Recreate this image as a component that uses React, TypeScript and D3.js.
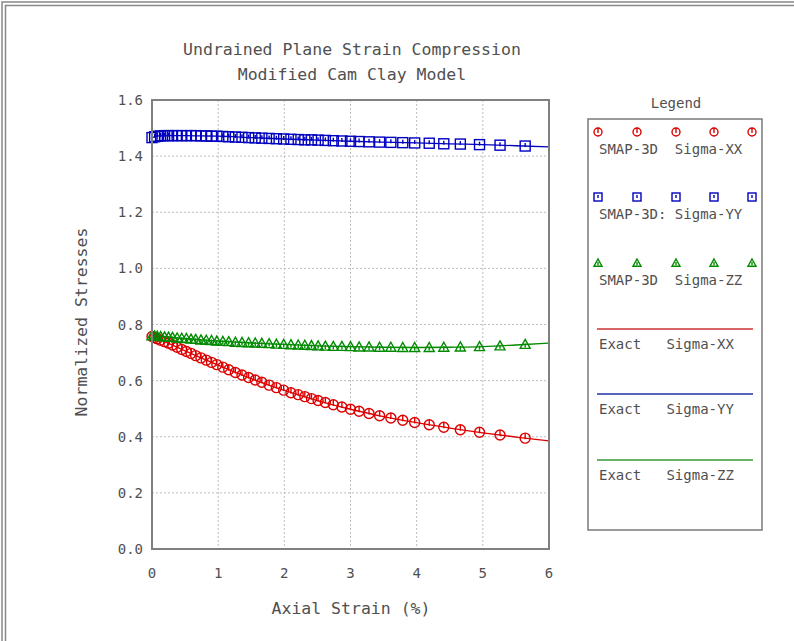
import React from 'react';
import * as d3 from 'd3';

// Axial strain (%) at which SMAP-3D results were written
const strain = [
  0, 0.04, 0.08, 0.13, 0.19, 0.25, 0.31, 0.38, 0.45, 0.52, 0.59, 0.66, 0.74, 0.82, 0.9, 0.98,
  1.07, 1.16, 1.26, 1.36, 1.46, 1.56, 1.66, 1.77, 1.88, 1.99,
  2.1, 2.21, 2.31, 2.41, 2.51, 2.62, 2.74, 2.87, 3.0,
  3.13, 3.28, 3.44, 3.61, 3.79, 3.97,
  4.19, 4.41, 4.66, 4.95, 5.26, 5.64,
];

const smapXX = [
  0.757, 0.753, 0.749, 0.744, 0.739, 0.733, 0.727, 0.719, 0.711, 0.704, 0.697, 0.689, 0.681, 0.673, 0.665, 0.657,
  0.648, 0.639, 0.629, 0.62, 0.611, 0.602, 0.594, 0.584, 0.575, 0.566,
  0.557, 0.55, 0.543, 0.536, 0.529, 0.522, 0.514, 0.506, 0.498,
  0.491, 0.483, 0.475, 0.467, 0.459, 0.451,
  0.443, 0.434, 0.425, 0.416, 0.406, 0.395,
];

const smapYY = [
  1.466, 1.469, 1.471, 1.472, 1.473, 1.473, 1.473, 1.473, 1.473, 1.473, 1.473, 1.473, 1.472, 1.472, 1.471, 1.471,
  1.47, 1.469, 1.468, 1.467, 1.466, 1.465, 1.464, 1.463, 1.462, 1.461,
  1.46, 1.459, 1.458, 1.458, 1.457, 1.456, 1.455, 1.454, 1.453,
  1.452, 1.451, 1.45, 1.449, 1.448, 1.447,
  1.446, 1.444, 1.443, 1.441, 1.439, 1.436,
];

const smapZZ = [
  0.76, 0.759, 0.758, 0.757, 0.756, 0.755, 0.754, 0.752, 0.751, 0.75, 0.748, 0.747, 0.745, 0.744, 0.743, 0.741,
  0.74, 0.739, 0.737, 0.736, 0.735, 0.734, 0.733, 0.732, 0.73, 0.729,
  0.728, 0.727, 0.726, 0.725, 0.724, 0.723, 0.722, 0.722, 0.721,
  0.72, 0.72, 0.719, 0.719, 0.718, 0.718,
  0.718, 0.719, 0.72, 0.721, 0.724, 0.729,
];

// Closed-form solution
const exactStrain = [0, 0.1, 0.25, 0.5, 0.75, 1, 1.5, 2, 2.5, 3, 3.5, 4, 4.5, 5, 5.5, 6];
const exactXX = [0.757, 0.748, 0.733, 0.706, 0.68, 0.655, 0.607, 0.565, 0.529, 0.498, 0.472, 0.45, 0.431, 0.414, 0.399, 0.385];
const exactYY = [1.466, 1.472, 1.473, 1.473, 1.472, 1.471, 1.466, 1.461, 1.457, 1.453, 1.45, 1.447, 1.444, 1.441, 1.437, 1.433];
const exactZZ = [0.76, 0.758, 0.755, 0.75, 0.745, 0.741, 0.734, 0.729, 0.724, 0.721, 0.719, 0.718, 0.719, 0.721, 0.727, 0.734];

const xTicks = [0, 1, 2, 3, 4, 5, 6];
const xTickLabels = ['0', '1', '2', '3', '4', '5', '6'];
const yTicks = [0, 0.2, 0.4, 0.6, 0.8, 1.0, 1.2, 1.4, 1.6];
const yTickLabels = ['0.0', '0.2', '0.4', '0.6', '0.8', '1.0', '1.2', '1.4', '1.6'];

const titleLines = ['Undrained Plane Strain Compression', 'Modified Cam Clay Model'];
const xTitle = 'Axial Strain (%)';
const yTitle = 'Normalized Stresses';

const RED = '#dd0000';
const BLUE = '#0000c0';
const GREEN = '#008a00';

const FONT = "'DejaVu Sans Mono', 'Liberation Mono', monospace";
const TEXT = '#505050';

const W = 794;
const H = 641;
const plot = { left: 152, right: 549, top: 100, bottom: 549 };

type Shape = 'circle' | 'square' | 'triangle';

function Marker({ shape, x, y, color, s }: { shape: Shape; x: number; y: number; color: string; s: number }) {
  const h = s / 2;
  if (shape === 'circle') {
    return (
      <g stroke={color} strokeWidth={1.4} fill="none">
        <circle cx={x} cy={y} r={h} />
        <line x1={x} y1={y - h} x2={x} y2={y + 1} />
      </g>
    );
  }
  if (shape === 'square') {
    return (
      <g stroke={color} strokeWidth={1.4} fill="none">
        <rect x={x - h} y={y - h} width={s} height={s} />
        <line x1={x} y1={y - h + 2} x2={x} y2={y + 1} />
      </g>
    );
  }
  const pts = `${x},${y - h} ${x + h},${y + h * 0.8} ${x - h},${y + h * 0.8}`;
  return (
    <g stroke={color} strokeWidth={1.4} fill="none">
      <polygon points={pts} />
      <line x1={x} y1={y - 1} x2={x} y2={y + h * 0.8 - 1} />
    </g>
  );
}

export default function App() {
  const x = d3.scaleLinear().domain([0, 6]).range([plot.left, plot.right]);
  const y = d3.scaleLinear().domain([0, 1.6]).range([plot.bottom, plot.top]);

  const line = d3
    .line<number>()
    .x((_, i) => x(exactStrain[i]))
    .y((d) => y(d))
    .curve(d3.curveMonotoneX);

  const series = [
    { values: smapXX, exact: exactXX, color: RED, shape: 'circle' as Shape },
    { values: smapZZ, exact: exactZZ, color: GREEN, shape: 'triangle' as Shape },
    { values: smapYY, exact: exactYY, color: BLUE, shape: 'square' as Shape },
  ];

  const legendMarkers = [
    { label: 'SMAP-3D  Sigma-XX', color: RED, shape: 'circle' as Shape, y: 132 },
    { label: 'SMAP-3D: Sigma-YY', color: BLUE, shape: 'square' as Shape, y: 197 },
    { label: 'SMAP-3D  Sigma-ZZ', color: GREEN, shape: 'triangle' as Shape, y: 263 },
  ];
  const legendLines = [
    { label: 'Exact   Sigma-XX', color: '#cc3333', y: 329 },
    { label: 'Exact   Sigma-YY', color: '#2233aa', y: 394 },
    { label: 'Exact   Sigma-ZZ', color: '#339933', y: 460 },
  ];
  const legendXs = [598, 637, 676, 714, 752];

  return (
    <svg
      width={W}
      height={H}
      viewBox={`0 0 ${W} ${H}`}
      style={{ position: 'absolute', left: 0, top: 0, background: '#fff' }}
      fontFamily={FONT}
    >
      <rect x={0} y={0} width={W} height={H} fill="#fff" />
      {/* outer double frame */}
      <g stroke="#888" strokeWidth={1.5} fill="none">
        <path d={`M2,${H} V2 H${W}`} />
        <path d={`M5.5,${H} V5.5 H${W}`} />
      </g>

      {/* titles */}
      {titleLines.map((t, i) => (
        <text key={t} x={352} y={55 + i * 25} textAnchor="middle" fontSize={16.5} fill={TEXT}>
          {t}
        </text>
      ))}

      {/* grid */}
      <g stroke="#bdbdbd" strokeWidth={1} strokeDasharray="2,2">
        {xTicks.slice(1, -1).map((t) => (
          <line key={`gx${t}`} x1={x(t)} x2={x(t)} y1={plot.top} y2={plot.bottom} />
        ))}
        {yTicks.slice(1, -1).map((t) => (
          <line key={`gy${t}`} x1={plot.left} x2={plot.right} y1={y(t)} y2={y(t)} />
        ))}
      </g>

      {/* tick labels */}
      {yTicks.map((t, i) => (
        <text key={`yl${t}`} x={143} y={y(t) + 5} textAnchor="end" fontSize={14} fill={TEXT}>
          {yTickLabels[i]}
        </text>
      ))}
      {xTicks.map((t, i) => (
        <text key={`xl${t}`} x={x(t)} y={578} textAnchor="middle" fontSize={14} fill={TEXT}>
          {xTickLabels[i]}
        </text>
      ))}

      {/* axis titles */}
      <text x={351} y={614} textAnchor="middle" fontSize={16.5} fill={TEXT} style={{ whiteSpace: 'pre' }}>
        {xTitle}
      </text>
      <text
        transform={`translate(87,322) rotate(-90)`}
        textAnchor="middle"
        fontSize={16.5}
        fill={TEXT}
      >
        {yTitle}
      </text>

      {/* data */}
      <g>
        {series.map((s) => (
          <path key={`l${s.color}`} d={line(s.exact) || ''} fill="none" stroke={s.color} strokeWidth={1.3} />
        ))}
        {series.map((s) =>
          s.values.map((v, i) => (
            <Marker key={`${s.color}${i}`} shape={s.shape} x={x(strain[i])} y={y(v)} color={s.color} s={10} />
          ))
        )}
      </g>

      {/* plot frame */}
      <rect
        x={plot.left}
        y={plot.top}
        width={plot.right - plot.left}
        height={plot.bottom - plot.top}
        fill="none"
        stroke="#808080"
        strokeWidth={2}
      />

      {/* legend */}
      <text x={676} y={108} textAnchor="middle" fontSize={14} fill={TEXT}>
        Legend
      </text>
      <rect x={588} y={119} width={174} height={411} fill="none" stroke="#7a7a7a" strokeWidth={1.5} />
      {legendMarkers.map((m) => (
        <g key={m.label}>
          {legendXs.map((lx) => (
            <Marker key={lx} shape={m.shape} x={lx} y={m.y} color={m.color} s={8} />
          ))}
          <text x={599} y={m.y + 22} fontSize={14} fill={TEXT} style={{ whiteSpace: 'pre' }}>
            {m.label}
          </text>
        </g>
      ))}
      {legendLines.map((l) => (
        <g key={l.label}>
          <line x1={597} x2={753} y1={l.y} y2={l.y} stroke={l.color} strokeWidth={1.3} />
          <text x={599} y={l.y + 20} fontSize={14} fill={TEXT} style={{ whiteSpace: 'pre' }}>
            {l.label}
          </text>
        </g>
      ))}
    </svg>
  );
}
